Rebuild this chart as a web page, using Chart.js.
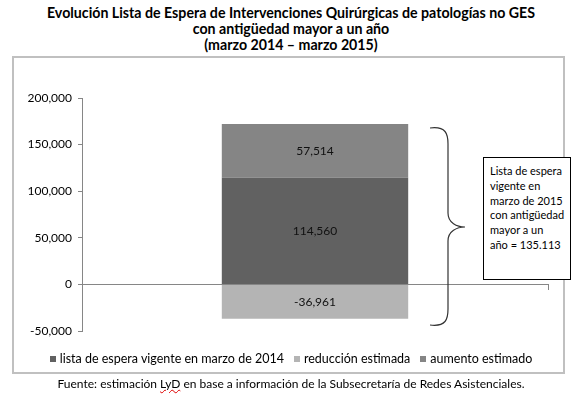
<!DOCTYPE html>
<html>
<head>
<meta charset="utf-8">
<script src="https://cdn.jsdelivr.net/npm/chart.js@4/dist/chart.umd.min.js"></script>
<style>
  body { margin: 0; background: #fff; font-family: Lato, sans-serif; }
  #wrap { position: relative; width: 587px; height: 394px; overflow: hidden; }
  #title { position: absolute; left: 0; top: 5px; width: 582px; text-align: center;
           font-weight: bold; font-size: 14.2px; line-height: 16px; color: #000; }
  #frame { position: absolute; left: 12px; top: 56px; width: 549px; height: 314px;
           border: 2px solid #c0c0c0; }
  #note { position: absolute; left: 483px; top: 157px; width: 80px; height: 115px;
          border: 1px solid #000; background: #fff; font-size: 11px; line-height: 14.8px;
          padding: 6px 0 0 6px; color: #000; }
  #legend { position: absolute; left: 0; top: 351px; width: 582px; display: flex;
            justify-content: center; font-size: 12.5px; line-height: 16px; color: #000; }
  #legend .item { display: flex; align-items: center; margin: 0 5px; }
  #legend .box { width: 6px; height: 6px; margin-right: 4px; }
  #source { position: absolute; left: 0; top: 376px; width: 582px; text-align: center;
            font-size: 12px; color: #000; }
  #source span { text-decoration: underline wavy #d00; text-decoration-thickness: 1px; }
  canvas { position: absolute; left: 0; top: 0; }
</style>
</head>
<body>
<div id="wrap">
  <div id="title">Evolución Lista de Espera de Intervenciones Quirúrgicas de patologías no GES<br>con antigüedad mayor a un año<br>(marzo 2014 – marzo 2015)</div>
  <div id="frame"></div>
  <canvas id="chart" width="587" height="394"></canvas>
  <div id="note">Lista de espera<br>vigente en<br>marzo de 2015<br>con antigüedad<br>mayor a un<br>año = 135.113</div>
  <div id="legend"></div>
  <div id="source">Fuente: estimación <span>LyD</span> en base a información de la Subsecretaría de Redes Asistenciales.</div>
</div>
<script>
const categories = ['marzo 2014 – marzo 2015'];
const seriesNames = ['lista de espera vigente en marzo de 2014', 'reducción estimada', 'aumento estimado'];
const listaVigente = [114560];
const reduccion = [-36961];
const aumento = [57514];
const yTicks = [-50000, 0, 50000, 100000, 150000, 200000];

const colors = ['#616161', '#b4b4b4', '#858585'];
const fmt = v => v.toLocaleString('en-US');

// value labels in the middle of each bar segment
const barLabels = {
  id: 'barLabels',
  afterDatasetsDraw(chart) {
    const ctx = chart.ctx;
    ctx.save();
    ctx.font = '12px Lato';
    ctx.fillStyle = '#111';
    ctx.textAlign = 'center';
    ctx.textBaseline = 'middle';
    chart.data.datasets.forEach((ds, i) => {
      chart.getDatasetMeta(i).data.forEach((bar, j) => {
        ctx.fillText(fmt(ds.data[j]), bar.x, (bar.y + bar.base) / 2);
      });
    });
    ctx.restore();
  }
};

// curly brace next to the bar
const brace = {
  id: 'brace',
  afterDraw(chart) {
    const ctx = chart.ctx;
    const x0 = 430, x1 = 448, xp = 465;
    const top = 128, mid = 227, bot = 325;
    ctx.save();
    ctx.strokeStyle = '#333';
    ctx.lineWidth = 1.2;
    ctx.beginPath();
    ctx.moveTo(x0, top);
    ctx.bezierCurveTo(x1 - 2, top - 2, x1, top + 6, x1, top + 16);
    ctx.lineTo(x1, mid - 14);
    ctx.bezierCurveTo(x1, mid - 4, xp - 8, mid, xp, mid);
    ctx.bezierCurveTo(xp - 8, mid, x1, mid + 4, x1, mid + 14);
    ctx.lineTo(x1, bot - 16);
    ctx.bezierCurveTo(x1, bot - 6, x1 - 2, bot + 2, x0, bot);
    ctx.stroke();
    ctx.restore();
  }
};

// legend built as html from the chart's own legend items
const htmlLegend = {
  id: 'htmlLegend',
  afterUpdate(chart) {
    const el = document.getElementById('legend');
    el.innerHTML = '';
    chart.options.plugins.legend.labels.generateLabels(chart).forEach(item => {
      const d = document.createElement('div');
      d.className = 'item';
      const b = document.createElement('span');
      b.className = 'box';
      b.style.background = item.fillStyle;
      d.appendChild(b);
      d.appendChild(document.createTextNode(item.text));
      el.appendChild(d);
    });
  }
};

new Chart(document.getElementById('chart'), {
  type: 'bar',
  data: {
    labels: categories,
    datasets: [
      { label: seriesNames[0], data: listaVigente, backgroundColor: colors[0] },
      { label: seriesNames[1], data: reduccion, backgroundColor: colors[1] },
      { label: seriesNames[2], data: aumento, backgroundColor: colors[2] }
    ]
  },
  options: {
    responsive: false,
    devicePixelRatio: 1,
    animation: false,
    barPercentage: 0.4,
    categoryPercentage: 1,
    layout: { padding: { left: 0, right: 39, top: 98, bottom: 63 } },
    plugins: {
      tooltip: { enabled: false },
      legend: { display: false }
    },
    scales: {
      x: {
        stacked: true,
        position: { y: 0 },
        ticks: { display: false },
        border: { color: '#868686', width: 1 },
        grid: { display: true, drawOnChartArea: false, offset: true, tickLength: 5, color: '#868686' }
      },
      y: {
        stacked: true,
        min: yTicks[0],
        max: yTicks[yTicks.length - 1],
        afterFit: s => { s.width = 82; },
        afterBuildTicks: s => { s.ticks = yTicks.map(v => ({ value: v })); },
        border: { color: '#868686', width: 1 },
        grid: {
          drawOnChartArea: true,
          tickLength: 4,
          color: c => (c.tick && c.tick.value === 0 ? '#868686' : 'rgba(0,0,0,0)'),
          tickColor: '#868686'
        },
        ticks: {
          color: '#000',
          padding: 6,
          font: { family: 'Lato', size: 12 },
          callback: v => fmt(v)
        }
      }
    }
  },
  plugins: [barLabels, brace, htmlLegend]
});
</script>
</body>
</html>
